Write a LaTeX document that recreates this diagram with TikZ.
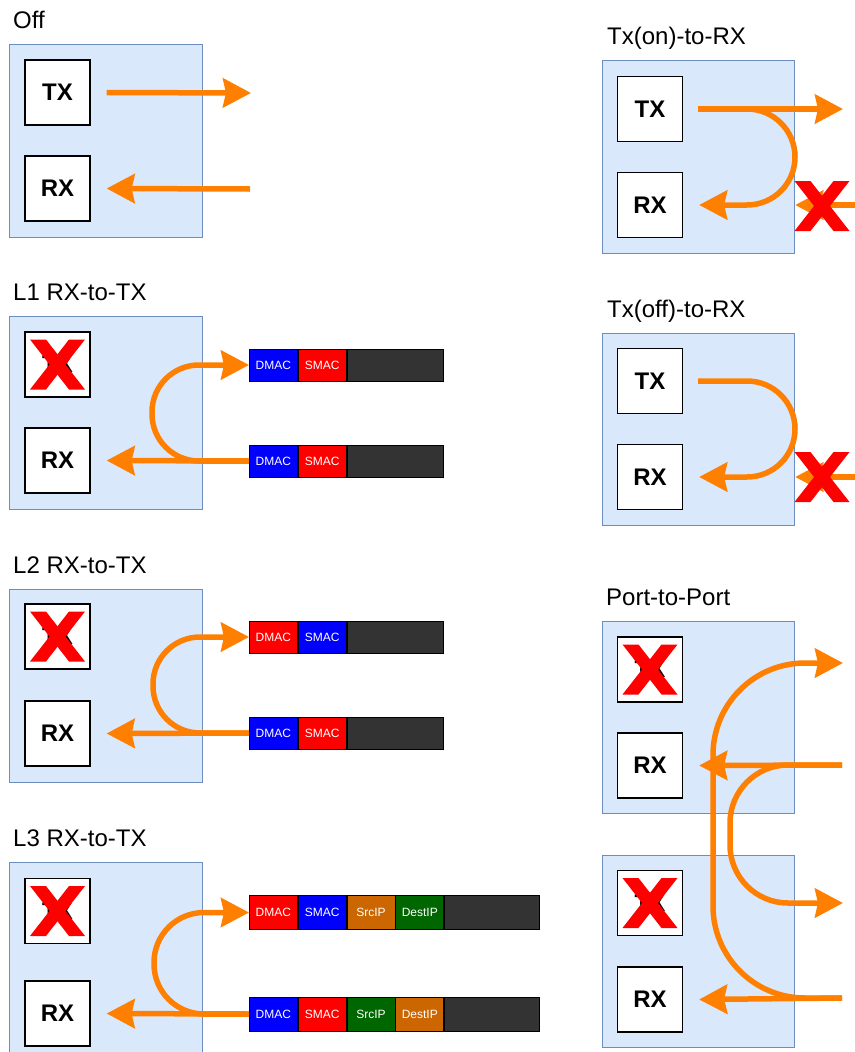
\documentclass[tikz,border=0pt]{standalone}
\usepackage{fontspec}
\setmainfont{Liberation Sans}
\usetikzlibrary{arrows.meta}
\definecolor{cfill}{HTML}{DAE8FC}
\definecolor{cline}{HTML}{6C8EBF}
\definecolor{flowc}{HTML}{FF8000}
\definecolor{pblue}{HTML}{0000FF}
\definecolor{pred}{HTML}{FF0000}
\definecolor{pbrown}{HTML}{CC6600}
\definecolor{pgreen}{HTML}{006600}
\definecolor{pdark}{HTML}{333333}
\definecolor{xred}{HTML}{FF0000}
\begin{document}
\begin{tikzpicture}[x=1pt,y=-1pt,
  container/.style={draw=cline,fill=cfill,line width=1.2pt,inner sep=0pt,minimum width=193pt,minimum height=193pt,anchor=north west},
  portbox/.style={draw=black,fill=white,line width=1.3pt,minimum size=65pt,inner sep=0pt,font=\fontsize{24}{28}\selectfont\bfseries},
  title/.style={anchor=base west,inner sep=0pt,font=\fontsize{24}{28}\selectfont},
  cell/.style={draw=black,line width=0.8pt,minimum width=48pt,minimum height=32pt,inner sep=0pt,text=white,font=\fontsize{12}{14}\selectfont,anchor=west},
  tall/.style={minimum height=34pt},
  flow/.style={draw=flowc,line width=5.5pt},
  arr/.style={flow,-{Stealth[length=28pt,width=29pt,inset=3pt]}},
  redx/.pic={\fill[xred] (-27.5,-25) -- (-11.5,-25) -- (27.5,25) -- (11.5,25) -- cycle;
             \fill[xred] (11.5,-25) -- (27.5,-25) -- (-11.5,25) -- (-27.5,25) -- cycle;}
]
\useasboundingbox (0,0) rectangle (854,1052);

% ---------------- titles ----------------
\node[title] (tOff) at (13,28) {Off};
\node[title] (tL1) at (13,300) {L1 RX-to-TX};
\node[title] (tL2) at (13,573) {L2 RX-to-TX};
\node[title] (tL3) at (13,846) {L3 RX-to-TX};
\node[title] (tOn) at (607,44) {Tx(on)-to-RX};
\node[title] (tOffRx) at (607,317) {Tx(off)-to-RX};
\node[title] (tP2P) at (606,605) {Port-to-Port};

% ---------------- containers ----------------
\node[container] (cOff) at (9,44) {};
\node[container] (cL1) at (9,316) {};
\node[container] (cL2) at (9,589) {};
\node[container] (cL3) at (9,862) {};
\node[container,minimum width=192pt] (cOn) at (602,60) {};
\node[container,minimum width=192pt,minimum height=192pt] (cOffRx) at (602,333) {};
\node[container,minimum width=192pt,minimum height=192pt] (cP1) at (602,621) {};
\node[container,minimum width=192pt,minimum height=192pt] (cP2) at (602,855) {};

% ---------------- port boxes ----------------
\node[portbox] (offTX) at (57.5,92.5) {TX};
\node[portbox] (offRX) at (57.5,188.5) {RX};
\node[portbox] (l1TX) at (57.5,364.5) {TX};
\node[portbox] (l1RX) at (57.5,460.5) {RX};
\node[portbox] (l2TX) at (57.5,636.5) {TX};
\node[portbox] (l2RX) at (57.5,733.5) {RX};
\node[portbox] (l3TX) at (57.5,911) {TX};
\node[portbox] (l3RX) at (57.5,1013.5) {RX};
\node[portbox] (onTX) at (650,109) {TX};
\node[portbox] (onRX) at (650,205) {RX};
\node[portbox] (ofTX) at (650,381) {TX};
\node[portbox] (ofRX) at (650,477) {RX};
\node[portbox] (pTX1) at (650,669.5) {TX};
\node[portbox] (pRX1) at (650,765.5) {RX};
\node[portbox] (pTX2) at (650,903) {TX};
\node[portbox] (pRX2) at (650,999.5) {RX};

% ---------------- packets ----------------
% L1
\node[cell,fill=pblue] (l1a1) at (249,365) {DMAC};
\node[cell,fill=pred] (l1a2) at (l1a1.east) {SMAC};
\node[cell,fill=pdark,minimum width=96pt] (l1a3) at (l1a2.east) {};
\node[cell,fill=pblue] (l1b1) at (249,461) {DMAC};
\node[cell,fill=pred] (l1b2) at (l1b1.east) {SMAC};
\node[cell,fill=pdark,minimum width=96pt] (l1b3) at (l1b2.east) {};
% L2
\node[cell,fill=pred] (l2a1) at (249,637) {DMAC};
\node[cell,fill=pblue] (l2a2) at (l2a1.east) {SMAC};
\node[cell,fill=pdark,minimum width=96pt] (l2a3) at (l2a2.east) {};
\node[cell,fill=pblue] (l2b1) at (249,733) {DMAC};
\node[cell,fill=pred] (l2b2) at (l2b1.east) {SMAC};
\node[cell,fill=pdark,minimum width=96pt] (l2b3) at (l2b2.east) {};
% L3
\node[cell,tall,fill=pred] (l3a1) at (249,912.5) {DMAC};
\node[cell,tall,fill=pblue] (l3a2) at (l3a1.east) {SMAC};
\node[cell,tall,fill=pbrown] (l3a3) at (l3a2.east) {SrcIP};
\node[cell,tall,fill=pgreen] (l3a4) at (l3a3.east) {DestIP};
\node[cell,tall,fill=pdark,minimum width=95pt] (l3a5) at (l3a4.east) {};
\node[cell,tall,fill=pblue] (l3b1) at (249,1014) {DMAC};
\node[cell,tall,fill=pred] (l3b2) at (l3b1.east) {SMAC};
\node[cell,tall,fill=pgreen] (l3b3) at (l3b2.east) {SrcIP};
\node[cell,tall,fill=pbrown] (l3b4) at (l3b3.east) {DestIP};
\node[cell,tall,fill=pdark,minimum width=95pt] (l3b5) at (l3b4.east) {};

% ---------------- free ends ----------------
\coordinate (offOut) at (251,93);
\coordinate (offIn) at (250,189);
\coordinate (onOut) at (843,109);
\coordinate (onIn) at (856,205);
\coordinate (ofIn) at (856,477);
\coordinate (pOut1) at (843,663);
\coordinate (pIn1) at (842,765);
\coordinate (pOut2) at (843,903);
\coordinate (pIn2) at (842,998);

% ---------------- flows ----------------
% Off
\draw[arr] ([xshift=16pt]offTX.east) -- (offOut);
\draw[arr] (offIn) -- ([xshift=16pt]offRX.east);
% L1
\draw[arr] (l1b1.west) -- ([xshift=16pt]l1RX.east);
\draw[arr,rounded corners=47pt] (l1b1.west) -- (152,461) -- (152,365) -- (l1a1.west);
% L2
\draw[arr] (l2b1.west) -- ([xshift=16pt]l2RX.east);
\draw[arr,rounded corners=47pt] (l2b1.west) -- (153,733) -- (153,637) -- (l2a1.west);
% L3
\draw[arr] (l3b1.west) -- ([xshift=16pt]l3RX.east);
\draw[arr,rounded corners=50pt] (l3b1.west) -- (154,1014) -- (154,912.5) -- (l3a1.west);
% Tx(on)
\draw[arr] ([xshift=15pt]onTX.east) -- (onOut);
\draw[arr,rounded corners=48pt] ([xshift=15pt]onTX.east) -- (795,109) -- (795,205) -- ([xshift=16pt]onRX.east);
\draw[arr] (onIn) -- (onIn -| cOn.east);
% Tx(off)
\draw[arr,rounded corners=48pt] ([xshift=15pt]ofTX.east) -- (795,381) -- (795,477) -- ([xshift=16pt]ofRX.east);
\draw[arr] (ofIn) -- (ofIn -| cOffRx.east);
% Port-to-Port
\draw[arr] (pIn1) -- ([xshift=16pt]pRX1.east);
\draw[arr] (pIn2) -- ([xshift=16pt]pRX2.east);
\draw[arr,rounded corners=58pt] (pIn1) -- (730,765) -- (730,903) -- (pOut2);
\draw[arr,rounded corners=92pt] (pIn2) -- (713,998) -- (713,663) -- (pOut1);

% ---------------- red crosses ----------------
\pic at (57.5,364.5) {redx};
\pic at (57.5,636.5) {redx};
\pic at (57.5,911) {redx};
\pic at (650,669.5) {redx};
\pic at (650,903) {redx};
\pic at (822,206) {redx};
\pic at (822,477) {redx};
\end{tikzpicture}
\end{document}
